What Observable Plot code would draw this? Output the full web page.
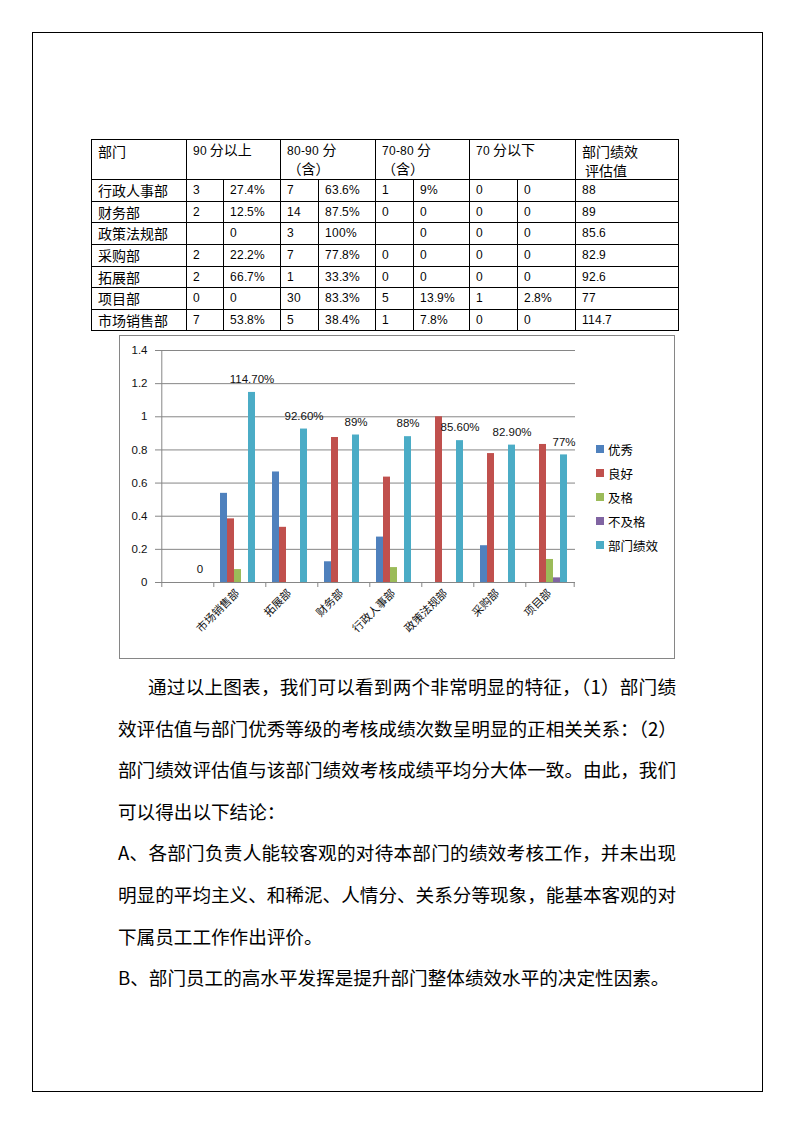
<!DOCTYPE html>
<html><head><meta charset="utf-8">
<script src="https://cdn.jsdelivr.net/npm/d3@7"></script>
<script src="https://cdn.jsdelivr.net/npm/@observablehq/plot@0.6"></script>
<style>
@font-face{font-family:"TblNum";src:local("Liberation Sans"),local("LiberationSans");size-adjust:86%;}
html,body{margin:0;padding:0;background:#fff;}
body{width:794px;height:1123px;position:relative;overflow:hidden;font-family:"Noto Sans CJK SC",sans-serif;color:#000;}
.page{position:absolute;left:32px;top:32px;width:729px;height:1058px;border:1px solid #000;}
table{position:absolute;left:91px;top:139px;width:588px;border-collapse:collapse;table-layout:fixed;font-family:"TblNum","Noto Sans CJK SC",sans-serif;font-size:14px;}
td{border:1px solid #000;padding:1px 0 0 6px;vertical-align:top;line-height:19px;white-space:nowrap;overflow:hidden;box-sizing:border-box;}
tr.h{height:39.5px;} tr.r{height:21.65px;}
tr.h td{padding-top:2px;line-height:18.5px;}
.cn{font-family:"Noto Sans CJK SC",sans-serif;}
#chartbox{position:absolute;left:119px;top:335px;width:554px;height:322px;border:1px solid #868686;}
#chartbox svg{position:absolute;left:0;top:0;}
#legend{position:absolute;left:476px;top:101px;font-size:12.5px;}
#legend .it{height:24px;display:flex;align-items:center;}
#legend .sw{width:8px;height:8px;margin-right:4px;}
#text{position:absolute;left:118px;top:665px;width:558px;font-size:18.6px;line-height:41.6px;}
#text .ln{white-space:nowrap;}
#text .j{text-align:justify;text-align-last:justify;white-space:normal;}
</style></head>
<body>
<div class="page"></div>
<table id="tbl"></table>
<div id="chartbox"><div id="legend"></div></div>
<div id="text"></div>
<script>
// ---- table data ----
const tableHeader = ["部门", "90 分以上", "80-90 分<br>（含）", "70-80 分<br>（含）", "70 分以下", "部门绩效<br>&nbsp;评估值"];
const tableDepts = ["行政人事部", "财务部", "政策法规部", "采购部", "拓展部", "项目部", "市场销售部"];
const tableRows = [
  ["3","27.4%","7","63.6%","1","9%","0","0","88"],
  ["2","12.5%","14","87.5%","0","0","0","0","89"],
  ["","0","3","100%","","0","0","0","85.6"],
  ["2","22.2%","7","77.8%","0","0","0","0","82.9"],
  ["2","66.7%","1","33.3%","0","0","0","0","92.6"],
  ["0","0","30","83.3%","5","13.9%","1","2.8%","77"],
  ["7","53.8%","5","38.4%","1","7.8%","0","0","114.7"]
];
// ---- chart data ----
const categories = ["", "市场销售部", "拓展部", "财务部", "行政人事部", "政策法规部", "采购部", "项目部"];
const seriesNames = ["优秀", "良好", "及格", "不及格", "部门绩效"];
const seriesColors = ["#4F81BD", "#C0504D", "#9BBB59", "#8064A2", "#4BACC6"];
const excellent   = [0, 0.538, 0.667, 0.125, 0.274, 0,     0.222, 0];
const good        = [0, 0.384, 0.333, 0.875, 0.636, 1.0,   0.778, 0.833];
const pass        = [0, 0.078, 0,     0,     0.09,  0,     0,     0.139];
const fail        = [0, 0,     0,     0,     0,     0,     0,     0.028];
const performance = [0, 1.147, 0.926, 0.89,  0.88,  0.856, 0.829, 0.77];
const performanceLabels = ["0", "114.70%", "92.60%", "89%", "88%", "85.60%", "82.90%", "77%"];
const yTicks = [0, 0.2, 0.4, 0.6, 0.8, 1, 1.2, 1.4];
// ---- text ----
const paragraphLines = [
  ["通过以上图表，我们可以看到两个非常明显的特征，（1）部门绩", true, true],
  ["效评估值与部门优秀等级的考核成绩次数呈明显的正相关关系：（2）", true, false],
  ["部门绩效评估值与该部门绩效考核成绩平均分大体一致。由此，我们", true, false],
  ["可以得出以下结论：", false, false],
  ["A、各部门负责人能较客观的对待本部门的绩效考核工作，并未出现", true, false],
  ["明显的平均主义、和稀泥、人情分、关系分等现象，能基本客观的对", true, false],
  ["下属员工工作作出评价。", false, false],
  ["B、部门员工的高水平发挥是提升部门整体绩效水平的决定性因素。", false, false]
];

// build table
const tbl = document.getElementById("tbl");
const colW = [94.7, 37.6, 57.2, 37.2, 57.3, 37.7, 56.3, 48.3, 57.7, 103.3];
let html = "<colgroup>" + colW.map(w => `<col style="width:${w}px">`).join("") + "</colgroup>";
html += `<tr class="h"><td class="cn">${tableHeader[0]}</td>` +
  tableHeader.slice(1, 5).map(h => `<td colspan="2">${h}</td>`).join("") +
  `<td class="cn">${tableHeader[5]}</td></tr>`;
tableDepts.forEach((d, i) => {
  html += `<tr class="r"><td class="cn">${d}</td>` + tableRows[i].map(v => `<td>${v}</td>`).join("") + "</tr>";
});
tbl.innerHTML = html;

// build chart
const valuesBySeries = [excellent, good, pass, fail, performance];
const rows = categories.flatMap((c, i) => seriesNames.map((s, j) => ({dept: c, series: s, value: valuesBySeries[j][i]})));
const perfRows = categories.map((c, i) => ({dept: c, series: seriesNames[4], value: performance[i], label: performanceLabels[i]}));
const axisColor = "#868686";
const edge = 10.2; // half bar + outer padding within a category band

const chart = Plot.plot({
  width: 554, height: 322,
  marginLeft: 37, marginRight: 98, marginTop: 14, marginBottom: 76,
  style: {fontFamily: '"Liberation Sans","Noto Sans CJK SC",sans-serif', fontSize: "11.5px", color: "#000", background: "transparent", overflow: "visible"},
  fx: {domain: categories, padding: 0, label: null},
  x: {domain: seriesNames, paddingInner: 0, paddingOuter: 0.775, axis: null},
  y: {domain: [0, 1.4], label: null},
  color: {domain: seriesNames, range: seriesColors},
  marks: [
    Plot.gridY(yTicks, {stroke: axisColor, strokeOpacity: 1}),
    Plot.ruleY([0], {stroke: axisColor}),
    Plot.barY(rows, {fx: "dept", x: "series", y: "value", fill: "series"}),
    Plot.text(perfRows, {fx: "dept", x: "series", y: "value", text: "label", dy: -13, fill: "#111", fontSize: 11.5}),
    Plot.axisY(yTicks, {tickSize: 4, tickPadding: 8, tickFormat: d3.format("~g"), stroke: axisColor, fill: "#111", label: null, fontSize: 11.5}),
    Plot.axisFx({anchor: "bottom", tickSize: 0, tickPadding: 9, tickRotate: -45, label: null, fontSize: 11, fill: "#111", fontFamily: '"Noto Sans CJK SC",sans-serif'}),
    Plot.ruleX(categories, {fx: d => d, x: () => seriesNames[0], dx: -edge, y1: 0, y2: 0, insetBottom: -5, stroke: axisColor}),
    Plot.ruleX([categories[categories.length - 1]], {fx: d => d, x: () => seriesNames[4], dx: edge, y1: 0, y2: 0, insetBottom: -5, stroke: axisColor}),
    Plot.ruleX([categories[0]], {fx: d => d, x: () => seriesNames[0], dx: -edge, y1: 0, y2: 1.4, stroke: axisColor})
  ]
});
document.getElementById("chartbox").appendChild(chart);

// legend
document.getElementById("legend").innerHTML = seriesNames.map((s, i) =>
  `<div class="it"><span class="sw" style="background:${seriesColors[i]}"></span><span>${s}</span></div>`).join("");

// paragraph
document.getElementById("text").innerHTML = paragraphLines.map(([t, just, indent]) =>
  `<div class="ln${just ? " j" : ""}" style="${indent ? "padding-left:30px;" : ""}">${t}</div>`).join("");
</script>
</body></html>
